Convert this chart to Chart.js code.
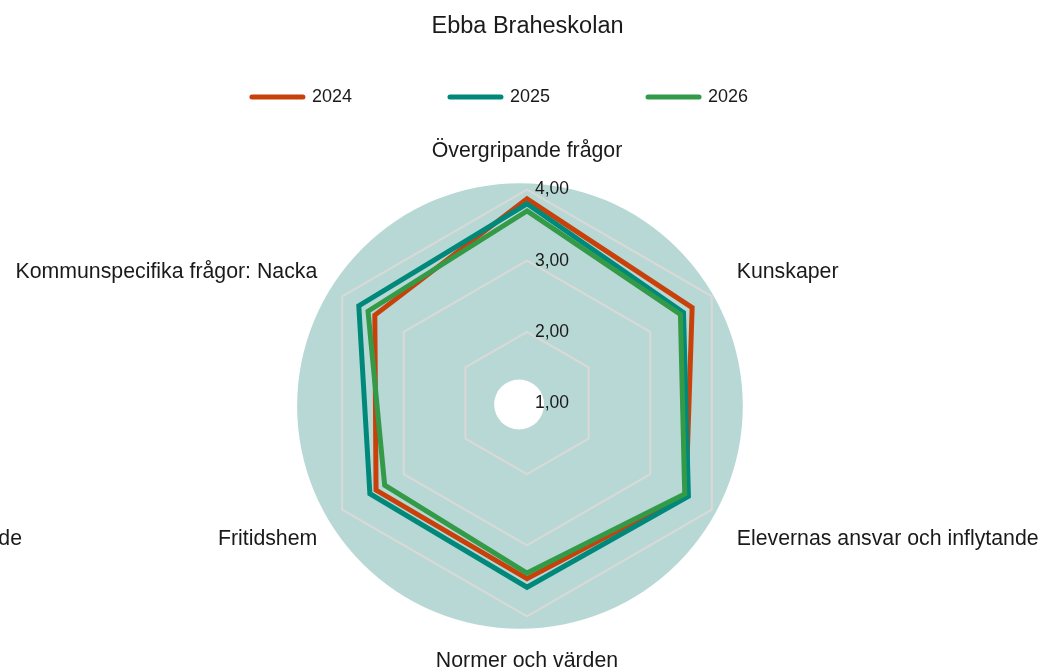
<!DOCTYPE html>
<html lang="sv">
<head>
<meta charset="utf-8">
<title>Ebba Braheskolan</title>
<script src="https://cdn.jsdelivr.net/npm/chart.js@4.4.1/dist/chart.umd.min.js"></script>
<style>
  html, body { margin: 0; padding: 0; background: #fff; }
  #wrap { width: 1042px; height: 669px; }
</style>
</head>
<body>
<div id="wrap"><canvas id="radar-chart"></canvas></div>
<script>
// kategorier (axlar) i ordning medsols från toppen
const omraden = ["Övergripande frågor", "Kunskaper", "Elevernas ansvar och inflytande",
                 "Normer och värden", "Fritidshem", "Kommunspecifika frågor: Nacka"];
const ar = ["2024", "2025", "2026"];
const varden2024 = [3.87, 3.68, 3.58, 3.47, 3.45, 3.47];
const varden2025 = [3.80, 3.54, 3.62, 3.59, 3.55, 3.73];
const varden2026 = [3.70, 3.49, 3.56, 3.39, 3.31, 3.58];
const skalsteg = [1, 2, 3, 4];

const FONT = "'Liberation Sans', Arial, Helvetica, sans-serif";
const TEXT = "#1a1a1a";
const LABEL_SIZE = 21.3;
const fmt = v => v.toFixed(2).replace(".", ",");

// teal bakgrundscirkel + vit mitt
const bakgrund = {
  id: "bakgrund",
  beforeDraw(chart) {
    const r = chart.scales.r, d = r.drawingArea, ctx = chart.ctx;
    ctx.save();
    ctx.fillStyle = "#b8d8d5";
    ctx.beginPath();
    ctx.arc(r.xCenter - d * 0.033, r.yCenter + d * 0.014, d * 1.044, 0, Math.PI * 2);
    ctx.fill();
    ctx.fillStyle = "#ffffff";
    ctx.beginPath();
    ctx.arc(r.xCenter - d * 0.037, r.yCenter + d * 0.007, d * 0.117, 0, Math.PI * 2);
    ctx.fill();
    ctx.restore();
  }
};

// etiketter: skalvärden till höger om axeln + kategorinamn
const texter = {
  id: "texter",
  afterDatasetsDraw(chart) {
    const r = chart.scales.r, ctx = chart.ctx;
    ctx.save();
    ctx.fillStyle = TEXT;
    ctx.textBaseline = "middle";

    ctx.font = "17.5px " + FONT;
    ctx.textAlign = "left";
    skalsteg.forEach(v => {
      ctx.fillText(fmt(v), r.xCenter + 8, r.yCenter - r.getDistanceFromCenterForValue(v));
    });

    // kategorinamn, samma placeringsregler som Chart.js men lite längre ut/ned
    ctx.font = LABEL_SIZE + "px " + FONT;
    const h = LABEL_SIZE * 1.2;
    let elevY = 0;
    omraden.forEach((txt, i) => {
      const deg = i * 360 / omraden.length;
      const p = r.getPointPosition(i, r.drawingArea + 28.7);
      let y = p.y + 2.7;
      if (deg === 90 || deg === 270) { /* mitt */ }
      else if (deg > 90 && deg < 270) y += h / 2;
      else y -= h / 2;
      ctx.textAlign = (deg === 0 || deg === 180) ? "center" : (deg < 180 ? "left" : "right");
      ctx.fillText(txt, p.x, y);
      if (i === 2) elevY = y;
    });

    // avklippt etikett i vänsterkanten (finns i originalbilden)
    ctx.textAlign = "right";
    ctx.fillText(omraden[2], 22, elevY);
    ctx.restore();
  }
};

// extra luft under legenden
const legendLuft = {
  id: "legendLuft",
  beforeLayout(chart) {
    const lg = chart.legend;
    if (lg && !lg._luft) {
      const fit = lg.fit;
      lg.fit = function () { fit.call(this); this.height += 22; };
      lg._luft = true;
    }
  }
};

const extraMellanrum = [18, 18, 11];

new Chart(document.getElementById("radar-chart"), {
  type: "radar",
  data: {
    labels: omraden,
    datasets: [
      { label: ar[0], data: varden2024, borderColor: "#c8410b", order: 3 },
      { label: ar[1], data: varden2025, borderColor: "#00897b", order: 2 },
      { label: ar[2], data: varden2026, borderColor: "#339a48", order: 1 }
    ].map(ds => Object.assign(ds, {
      backgroundColor: ds.borderColor,
      fill: false,
      borderWidth: 5,
      borderCapStyle: "round",
      borderJoinStyle: "miter",
      pointRadius: 0,
      pointHoverRadius: 0
    }))
  },
  options: {
    responsive: true,
    maintainAspectRatio: false,
    animation: false,
    layout: { padding: { top: 0, left: 13, right: 0, bottom: 0 } },
    plugins: {
      title: {
        display: true,
        text: "Ebba Braheskolan",
        color: TEXT,
        font: { family: FONT, size: 23.5, weight: "normal" },
        padding: { top: 12, bottom: 39.8 }
      },
      legend: {
        position: "top",
        labels: {
          color: TEXT,
          font: { family: FONT, size: 18 },
          usePointStyle: true,
          pointStyle: "line",
          pointStyleWidth: 51,
          padding: 8,
          sort: (a, b) => a.datasetIndex - b.datasetIndex,
          generateLabels(chart) {
            const items = Chart.defaults.plugins.legend.labels.generateLabels(chart);
            items.forEach(it => {
              it.pointStyle = "line";
              it.lineCap = "round";
              it.text = it.text + " ".repeat(extraMellanrum[it.datasetIndex]);
            });
            return items;
          }
        }
      },
      tooltip: { enabled: false }
    },
    scales: {
      r: {
        min: 1,
        max: 4,
        ticks: { display: false, stepSize: 1 },
        grid: { color: "#dad9d7", lineWidth: 2 },
        angleLines: { display: false },
        pointLabels: {
          // används för layouten; texten ritas i plugin "texter"
          color: "rgba(0,0,0,0)",
          font: { family: FONT, size: LABEL_SIZE },
          padding: 26
        }
      }
    }
  },
  plugins: [bakgrund, texter, legendLuft]
});
</script>
</body>
</html>
